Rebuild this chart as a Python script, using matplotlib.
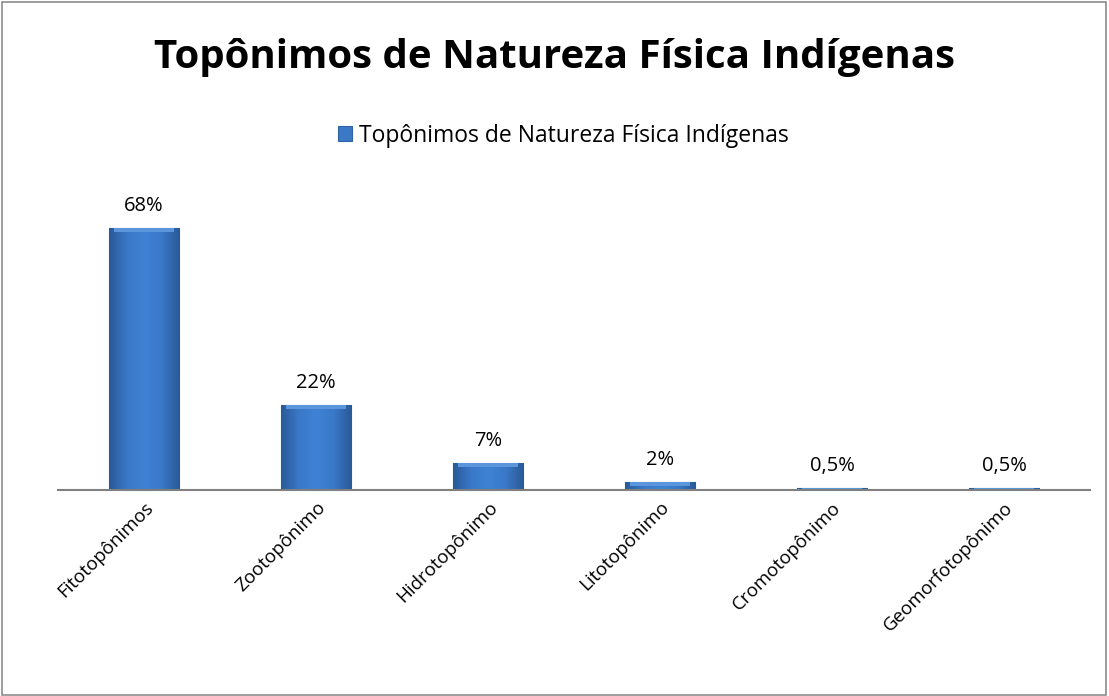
import numpy as np
import matplotlib.pyplot as plt
from matplotlib.patches import Rectangle
from matplotlib.colors import LinearSegmentedColormap

categories = ["Fitotopônimos", "Zootopônimo", "Hidrotopônimo",
              "Litotopônimo", "Cromotopônimo", "Geomorfotopônimo"]
values = [68, 22, 7, 2, 0.5, 0.5]
labels = ["68%", "22%", "7%", "2%", "0,5%", "0,5%"]
series_name = "Topônimos de Natureza Física Indígenas"

plt.rcParams['font.family'] = ['Open Sans', 'DejaVu Sans']

fig = plt.figure(figsize=(11.09, 6.96), dpi=100)
fig.patches.append(Rectangle((0.002, 0.002), 0.995, 0.995, transform=fig.transFigure,
                             fill=False, edgecolor="#8c8c8c", linewidth=1.2))

ax = fig.add_axes([0.0523, 0.296, 0.9306, 0.4425])
x = range(len(categories))
bars = ax.bar(x, values, width=0.41, color="#3b78c6", edgecolor="#2f63a6",
              linewidth=0.8, label=series_name)

# soft bevel look: darker sides, lighter middle
cmap = LinearSegmentedColormap.from_list(
    "bevel", ["#2a5a98", "#3a78c8", "#3f82d4", "#3a78c8", "#2a5a98"])
grad = np.linspace(0, 1, 64).reshape(1, -1)
for b in bars:
    x0, w, h = b.get_x(), b.get_width(), b.get_height()
    im = ax.imshow(grad, cmap=cmap, aspect="auto", extent=(x0, x0 + w, 0, h),
                   zorder=b.get_zorder() + 0.1)
    im.set_clip_path(b)
    top = min(1.0, h)
    ax.add_patch(Rectangle((x0 + w * 0.08, h - top), w * 0.84, top,
                           facecolor="#5b95dc", edgecolor="none",
                           zorder=b.get_zorder() + 0.2))

for xi, v, lab in zip(x, values, labels):
    ax.annotate(lab, (xi, v), xytext=(0, 9), textcoords="offset points",
                ha="center", va="bottom", fontsize=14.5)

ax.set_xlim(-0.5, len(categories) - 0.5)
ax.set_ylim(0, 80)
ax.set_yticks([])
for s in ["top", "right", "left"]:
    ax.spines[s].set_visible(False)
ax.spines["bottom"].set_color("#808080")
ax.spines["bottom"].set_linewidth(1.5)
ax.spines["bottom"].set_zorder(5)
ax.set_xticks(list(x))
ax.set_xticklabels(categories, rotation=45, ha="right", rotation_mode="anchor",
                   fontsize=13.5)
ax.tick_params(axis="x", length=0, pad=6)

fig.text(0.5, 0.918, series_name, ha="center", va="center",
         fontsize=29, fontweight="bold")
fig.legend(handles=[bars], loc="center", bbox_to_anchor=(0.508, 0.805),
           frameon=False, fontsize=16.5, handlelength=0.6, handleheight=0.6,
           handletextpad=0.3)

fig.savefig("out.png", dpi=100)
